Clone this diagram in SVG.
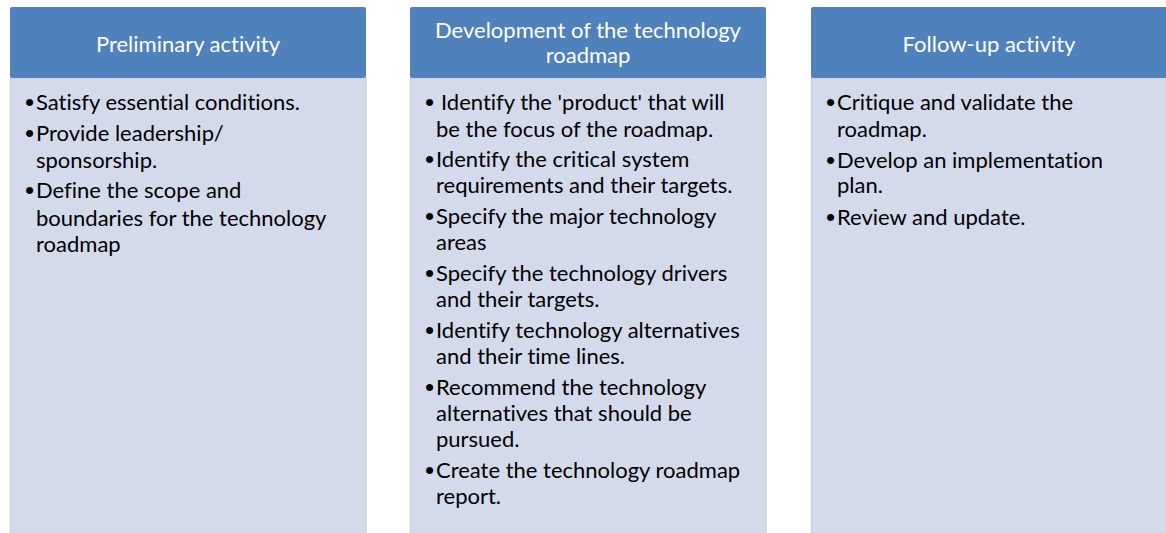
<svg xmlns="http://www.w3.org/2000/svg" width="1166" height="533" viewBox="0 0 1166 533">
<style>
.hdr{fill:#4F81BD;}
.body{fill:#D3DAEA;stroke:#C9D1E5;stroke-width:1.5;}
.ht{font-family:Lato,"Open Sans","Liberation Sans",sans-serif;font-size:22px;fill:#FFFFFF;text-anchor:middle;font-variant-ligatures:none;}
.bt{font-family:Lato,"Open Sans","Liberation Sans",sans-serif;font-size:22px;fill:#000000;font-variant-ligatures:none;}
.bu{font-family:"Liberation Sans",sans-serif;font-size:26px;fill:#000000;}
</style>
<rect width="1166" height="533" fill="#FFFFFF"/>
<g id="preliminary">
<rect class="body" x="10.5" y="78" width="355.5" height="470"/>
<rect class="hdr" x="10" y="7" width="356" height="71" rx="2"/>
<text class="ht" x="188" y="52">Preliminary activity</text>
<text class="bu" x="25" y="111">•</text><text class="bt" x="36" y="110">Satisfy essential conditions.</text>
<text class="bu" x="25" y="142">•</text><text class="bt" x="36" y="141">Provide leadership/</text>
<text class="bt" x="36" y="168">sponsorship.</text>
<text class="bu" x="25" y="199">•</text><text class="bt" x="36" y="198">Define the scope and</text>
<text class="bt" x="36" y="226">boundaries for the technology</text>
<text class="bt" x="36" y="252">roadmap</text>
</g>
<g id="development">
<rect class="body" x="410.5" y="78" width="355.5" height="470"/>
<rect class="hdr" x="410" y="7" width="356" height="71" rx="2"/>
<text class="ht" x="588" y="38">Development of the technology</text>
<text class="ht" x="588" y="63">roadmap</text>
<text class="bu" x="425" y="111">•</text><text class="bt" x="441" y="110">Identify the 'product' that will</text>
<text class="bt" x="436" y="137">be the focus of the roadmap.</text>
<text class="bu" x="425" y="168">•</text><text class="bt" x="436" y="167">Identify the critical system</text>
<text class="bt" x="436" y="193">requirements and their targets.</text>
<text class="bu" x="425" y="225">•</text><text class="bt" x="436" y="224">Specify the major technology</text>
<text class="bt" x="436" y="250">areas</text>
<text class="bu" x="425" y="282">•</text><text class="bt" x="436" y="281">Specify the technology drivers</text>
<text class="bt" x="436" y="307">and their targets.</text>
<text class="bu" x="425" y="339">•</text><text class="bt" x="436" y="338">Identify technology alternatives</text>
<text class="bt" x="436" y="364">and their time lines.</text>
<text class="bu" x="425" y="396">•</text><text class="bt" x="436" y="395">Recommend the technology</text>
<text class="bt" x="436" y="421">alternatives that should be</text>
<text class="bt" x="436" y="447">pursued.</text>
<text class="bu" x="425" y="479">•</text><text class="bt" x="436" y="478">Create the technology roadmap</text>
<text class="bt" x="436" y="504">report.</text>
</g>
<g id="followup">
<rect class="body" x="811.5" y="78" width="360" height="470"/>
<rect class="hdr" x="811" y="7" width="360" height="71" rx="2"/>
<text class="ht" x="989" y="52">Follow-up activity</text>
<text class="bu" x="826" y="111">•</text><text class="bt" x="837" y="110">Critique and validate the</text>
<text class="bt" x="837" y="137">roadmap.</text>
<text class="bu" x="826" y="169">•</text><text class="bt" x="837" y="168">Develop an implementation</text>
<text class="bt" x="837" y="193">plan.</text>
<text class="bu" x="826" y="226">•</text><text class="bt" x="837" y="225">Review and update.</text>
</g>
<g id="connectors"></g>
</svg>
